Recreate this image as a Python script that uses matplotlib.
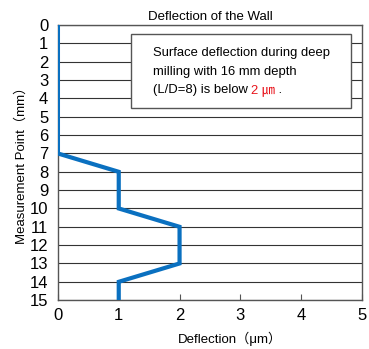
import matplotlib
matplotlib.use("Agg")
import matplotlib.pyplot as plt
from matplotlib.patches import Rectangle

plt.rcParams['font.family'] = ['Liberation Sans', 'Noto Sans CJK JP', 'DejaVu Sans']

# data
points = [0, 1, 2, 3, 4, 5, 6, 7, 8, 9, 10, 11, 12, 13, 14, 15]
deflection = [0, 0, 0, 0, 0, 0, 0, 0, 1, 1, 1, 2, 2, 2, 1, 1]
x_ticks = [0, 1, 2, 3, 4, 5]

note_lines = ["Surface deflection during deep", "milling with 16 mm depth"]
note_last = "(L/D=8) is below "
note_red = "2 \u339b"

fig = plt.figure(figsize=(3.69, 3.49), dpi=100)
ax = fig.add_axes([0.157, 0.140, 0.824, 0.788])

for p in points:
    ax.axhline(p, color='#333333', lw=0.8, zorder=1)
ax.plot(deflection, points, color='#0a70c0', lw=3, zorder=4, solid_joinstyle='miter')

ax.set_xlim(0, 5)
ax.set_ylim(15, 0)
ax.set_xticks(x_ticks)
ax.set_yticks(points)
ax.tick_params(axis='x', direction='in', length=4, labelsize=12, pad=6, color='#555555')
ax.tick_params(axis='y', length=0, labelsize=12, pad=7)
for s in ax.spines.values():
    s.set_color('#555555')
    s.set_linewidth(1)

ax.set_title("Deflection of the Wall", fontsize=9.5, pad=4)
ax.set_xlabel("Deflection\uff08\u03bcm\uff09", fontsize=9.5)
ax.xaxis.set_label_coords(0.566, -0.115)
ax.set_ylabel("Measurement Point\uff08mm\uff09", fontsize=9.5, labelpad=1)

ax.add_patch(Rectangle((1.2, 0.49), 3.62, 4.01, facecolor='white',
                       edgecolor='#555555', lw=1, zorder=3))
tx = 1.56
ty = [1.53, 2.55, 3.55]
fs = 9.4
for t, y in zip(note_lines, ty):
    ax.text(tx, y, t, fontsize=fs, va='center', zorder=5)
last = ax.text(tx, ty[2], note_last, fontsize=fs, va='center', zorder=5)
fig.canvas.draw()
bb = last.get_window_extent()
x_end = ax.transData.inverted().transform((bb.x1, bb.y0))[0]
red = ax.text(x_end, ty[2], note_red, fontsize=fs, va='center', color='#e8141c', zorder=5)
fig.canvas.draw()
bb2 = red.get_window_extent()
x_end2 = ax.transData.inverted().transform((bb2.x1, bb2.y0))[0]
ax.text(x_end2, ty[2], " .", fontsize=fs, va='center', zorder=5)

fig.savefig("out.png", dpi=100)
